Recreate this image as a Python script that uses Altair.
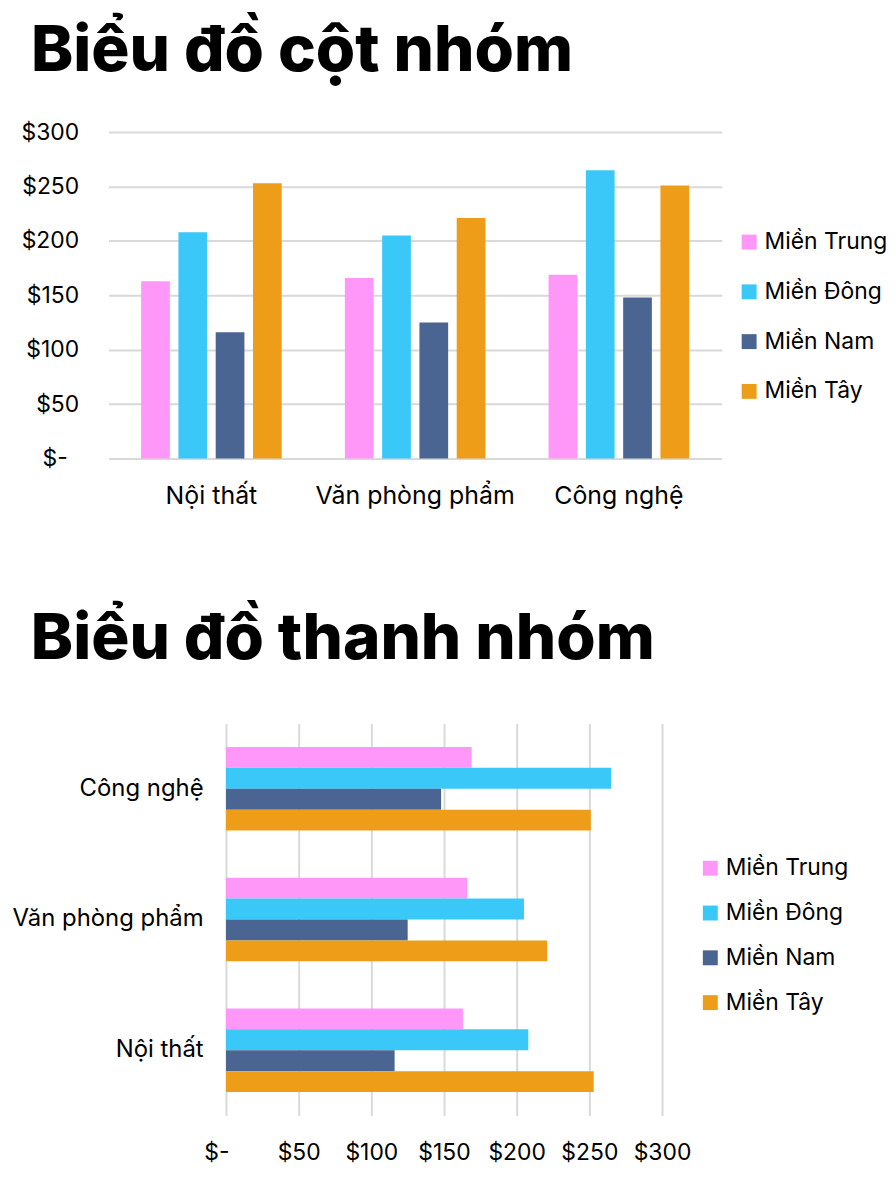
import altair as alt
import pandas as pd

categories = ["Nội thất", "Văn phòng phẩm", "Công nghệ"]
categories_bar = ["Công nghệ", "Văn phòng phẩm", "Nội thất"]
regions = ["Miền Trung", "Miền Đông", "Miền Nam", "Miền Tây"]
mien_trung = [163, 166, 169]
mien_dong = [208, 205, 265]
mien_nam = [116, 125, 148]
mien_tay = [253, 221, 251]
colors = ["#FF97F8", "#3AC8F8", "#4A6592", "#EE9D18"]
tick_values = [0, 50, 100, 150, 200, 250, 300]

rows = []
for i, c in enumerate(categories):
    for r, vals in zip(regions, [mien_trung, mien_dong, mien_nam, mien_tay]):
        rows.append({"category": c, "region": r, "value": vals[i]})
df = pd.DataFrame(rows)

FONT = "Inter"
GRID = "#d9d9d9"

def color_enc(lx, ly, row_pad):
    return alt.Color(
        "region:N",
        sort=regions,
        scale=alt.Scale(domain=regions, range=colors),
        legend=alt.Legend(
            title=None, orient="none", legendX=lx, legendY=ly,
            symbolType="square", symbolSize=225, symbolStrokeWidth=0,
            labelFontSize=23, labelFont=FONT, labelColor="#000",
            labelOffset=4, rowPadding=row_pad, padding=0,
        ),
    )

col = alt.Chart(
    df,
    title=alt.TitleParams("Biểu đồ cột nhóm", anchor="start", fontSize=64,
                          font=FONT, fontWeight=800, color="#000", dx=10, offset=37),
).mark_bar().encode(
    x=alt.X("category:N", sort=categories,
            scale=alt.Scale(paddingInner=0.31, paddingOuter=0.16),
            axis=alt.Axis(title=None, labelAngle=0, ticks=False, domain=False,
                          labelPadding=25, labelFontSize=25, labelFont=FONT,
                          labelLimit=400, labelColor="#000")),
    xOffset=alt.XOffset("region:N", sort=regions,
                        scale=alt.Scale(paddingInner=0.23, paddingOuter=0)),
    y=alt.Y("value:Q", scale=alt.Scale(domain=[0, 300]),
            axis=alt.Axis(title=None, values=tick_values, ticks=False, domain=False,
                          labelExpr="datum.value == 0 ? '$-\u2002\u200b' : '$' + datum.value",
                          labelPadding=30, labelFontSize=23, labelFont=FONT,
                          labelColor="#000", gridColor=GRID, gridWidth=2)),
    color=color_enc(632, 99, 26),
).properties(width=616, height=328)

bar = alt.Chart(
    df,
    title=alt.TitleParams("Biểu đồ thanh nhóm", anchor="start", fontSize=64,
                          font=FONT, fontWeight=800, color="#000", dx=19, offset=52),
).mark_bar().encode(
    y=alt.Y("category:N", sort=categories_bar,
            scale=alt.Scale(paddingInner=0.36, paddingOuter=0.18),
            axis=alt.Axis(title=None, ticks=False, domain=False, offset=-118,
                          labelPadding=23, labelFontSize=24, labelFont=FONT,
                          labelLimit=400, labelColor="#000")),
    yOffset=alt.YOffset("region:N", sort=regions,
                        scale=alt.Scale(paddingInner=0, paddingOuter=0)),
    x=alt.X("value:Q", scale=alt.Scale(domain=[0, 300], range=[118, 556]),
            axis=alt.Axis(title=None, values=tick_values, ticks=False, domain=False,
                          labelExpr="datum.value == 0 ? '$-\u00a0\u00a0\u00a0\u200b' : '$' + datum.value",
                          labelFlush=False, labelOverlap=False,
                          labelPadding=26, labelFontSize=23, labelFont=FONT,
                          labelColor="#000", gridColor=GRID, gridWidth=2)),
    color=color_enc(593, 134, 21),
).properties(width=556, height=394)

chart = alt.vconcat(col, bar, spacing=100).resolve_legend(color="independent").properties(
    padding={"left": 3, "top": 10, "right": 0, "bottom": 0}
).configure(font=FONT, background="white").configure_view(strokeWidth=0, stroke="transparent")

chart.save("out.html", embed_options={"renderer": "svg", "actions": False})
